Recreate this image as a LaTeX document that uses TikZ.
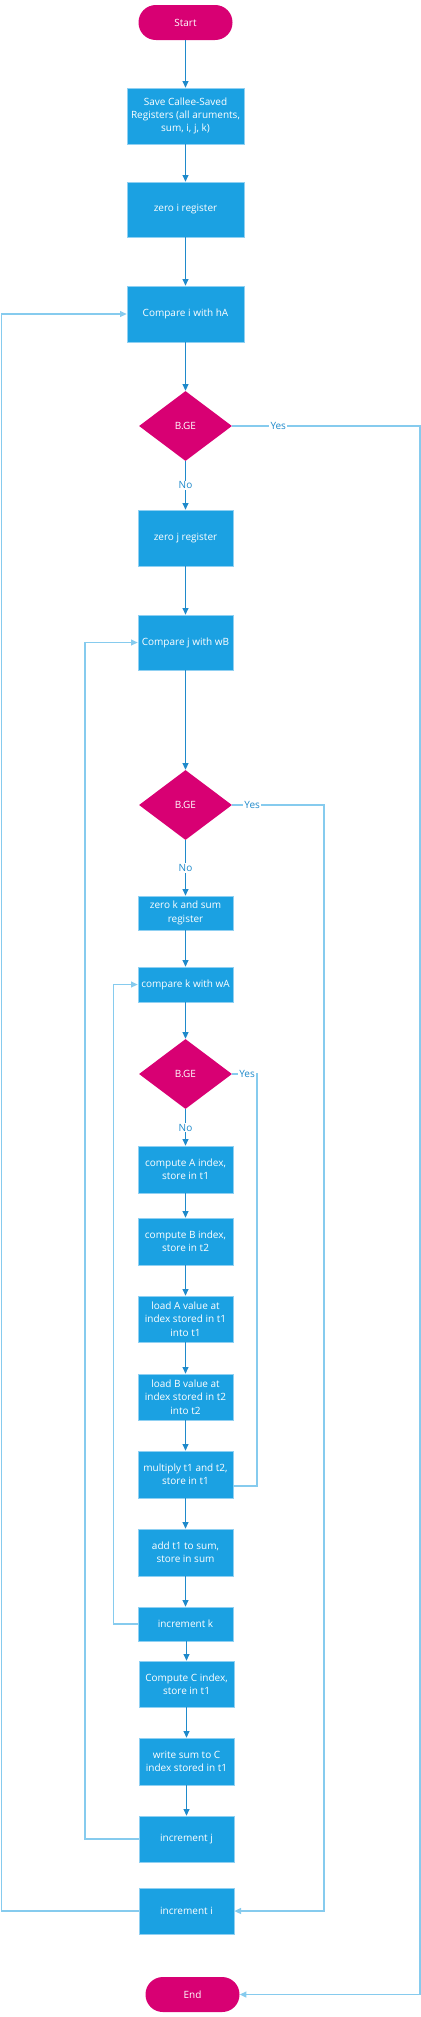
\documentclass[tikz,border=0pt]{standalone}
\usepackage{fontspec}
\setmainfont{Open Sans}
\usepackage{xcolor}
\usetikzlibrary{arrows.meta, positioning, shapes.geometric}
\definecolor{procblue}{HTML}{1BA1E2}
\definecolor{procedge}{HTML}{8FD0F2}
\definecolor{termpink}{HTML}{D80073}
\definecolor{flowblue}{HTML}{1F8ACB}
\definecolor{loopblue}{HTML}{86CBEE}
\begin{document}
\begin{tikzpicture}[
    x=0.75pt, y=-0.75pt,
    every node/.style={font=\fontsize{7.5}{10}\selectfont, text=white,
                       align=center, inner sep=1pt},
    term/.style={rectangle, rounded corners=13pt, fill=termpink,
                 minimum width=70.5pt, minimum height=26.25pt},
    proc/.style={rectangle, fill=procblue, draw=procedge, line width=0.5pt,
                 minimum width=71.25pt, minimum height=34.5pt},
    wide/.style={minimum width=87.75pt, minimum height=42pt},
    decide/.style={diamond, fill=termpink, aspect=1.33, inner sep=0pt,
                   minimum width=69.75pt, minimum height=52.5pt},
    flow/.style={draw=flowblue, line width=0.75pt, -{Triangle[width=4.5pt,length=5pt]}},
    loopline/.style={draw=loopblue, line width=1pt, -{Triangle[width=4.5pt,length=5pt]}},
    lbl/.style={fill=white, text=flowblue, inner sep=0.8pt}
  ]
  \useasboundingbox (0,0) rectangle (421,2017);

  % outer loop over i
  \node[term] (start) at (185.5,22.5) {Start};
  \node[proc, wide] (save) at (185.5,116) {Save Callee-Saved\\Registers (all aruments,\\sum, i, j, k)};
  \node[proc, wide, minimum height=41.25pt] (zeroi) at (185.5,209.5) {zero i register};
  \node[proc, wide] (cmpi) at (185.5,314) {Compare i with hA};
  \node[decide] (dec1) at (185.5,426) {B.GE};

  % middle loop over j
  \node[proc, minimum height=42pt] (zeroj) at (185.5,538) {zero j register};
  \node[proc, minimum height=41.25pt] (cmpj) at (185.5,642.5) {Compare j with wB};
  \node[decide] (dec2) at (185.5,805) {B.GE};

  % inner loop over k
  \node[proc, minimum height=25.5pt] (zerok) at (185.5,913) {zero k and sum\\register};
  \node[proc, minimum height=26.25pt] (cmpk) at (185.5,984.5) {compare k with wA};
  \node[decide] (dec3) at (185.5,1074) {B.GE};
  \node[proc, minimum height=35.25pt] (compA) at (185.5,1169.5) {compute A index,\\store in t1};
  \node[proc, minimum height=35.25pt] (compB) at (185.5,1241.5) {compute B index,\\store in t2};
  \node[proc] (loadA) at (185.5,1319) {load A value at\\index stored in t1\\into t1};
  \node[proc] (loadB) at (185.5,1397) {load B value at\\index stored in t2\\into t2};
  \node[proc, minimum height=35.25pt] (mult) at (185.5,1474.5) {multiply t1 and t2,\\store in t1};
  \node[proc, minimum height=35.25pt] (addsum) at (185.5,1552.5) {add t1 to sum,\\store in sum};
  \node[proc, minimum height=25.5pt] (inck) at (185.5,1624) {increment k};

  \node[proc] (compC) at (186.5,1684) {Compute C index,\\store in t1};
  \node[proc, minimum height=35.25pt] (write) at (186.5,1761.5) {write sum to C\\index stored in t1};
  \node[proc] (incj) at (186.5,1839) {increment j};
  \node[proc] (inci) at (186.5,1911) {increment i};
  \node[term] (finish) at (192.5,1994.5) {End};

  % rails for the loop connectors
  \coordinate (railI) at (1.5,0);
  \coordinate (railJ) at (85,0);
  \coordinate (railK) at (113.7,0);
  \coordinate (exitI) at (420,0);
  \coordinate (exitJ) at (324,0);
  \coordinate (exitK) at (257,0);

  % straight flow
  \draw[flow] (start) -- (save);
  \draw[flow] (save) -- (zeroi);
  \draw[flow] (zeroi) -- (cmpi);
  \draw[flow] (cmpi) -- (dec1);
  \draw[flow] (dec1) -- node[lbl] {No} (zeroj);
  \draw[flow] (zeroj) -- (cmpj);
  \draw[flow] (cmpj) -- (dec2);
  \draw[flow] (dec2) -- node[lbl] {No} (zerok);
  \draw[flow] (zerok) -- (cmpk);
  \draw[flow] (cmpk) -- (dec3);
  \draw[flow] (dec3) -- node[lbl] {No} (compA);
  \draw[flow] (compA) -- (compB);
  \draw[flow] (compB) -- (loadA);
  \draw[flow] (loadA) -- (loadB);
  \draw[flow] (loadB) -- (mult);
  \draw[flow] (mult) -- (addsum);
  \draw[flow] (addsum) -- (inck);
  \draw[flow] (compC.north |- inck.south) -- (compC);
  \draw[flow] (compC) -- (write);
  \draw[flow] (write) -- (incj);

  % loop backs
  \draw[loopline] (inci.west) -- (inci.west -| railI) |- (cmpi.west);
  \draw[loopline] (incj.west) -- (incj.west -| railJ) |- (cmpj.west);
  \draw[loopline] (inck.west) -- (inck.west -| railK) |- (cmpk.west);

  % exits
  \draw[loopline] (dec1.east) -- node[lbl, pos=0.245] {Yes} (dec1.east -| exitI) |- (finish.east);
  \draw[loopline] (dec2.east) -- node[lbl, pos=0.217] {Yes} (dec2.east -| exitJ) |- (inci.east);
  \draw[loopline, -] (dec3.east) -- node[lbl, pos=0.6] {Yes} (dec3.east -| exitK) |- ([yshift=-8.6pt]mult.east);
\end{tikzpicture}
\end{document}
